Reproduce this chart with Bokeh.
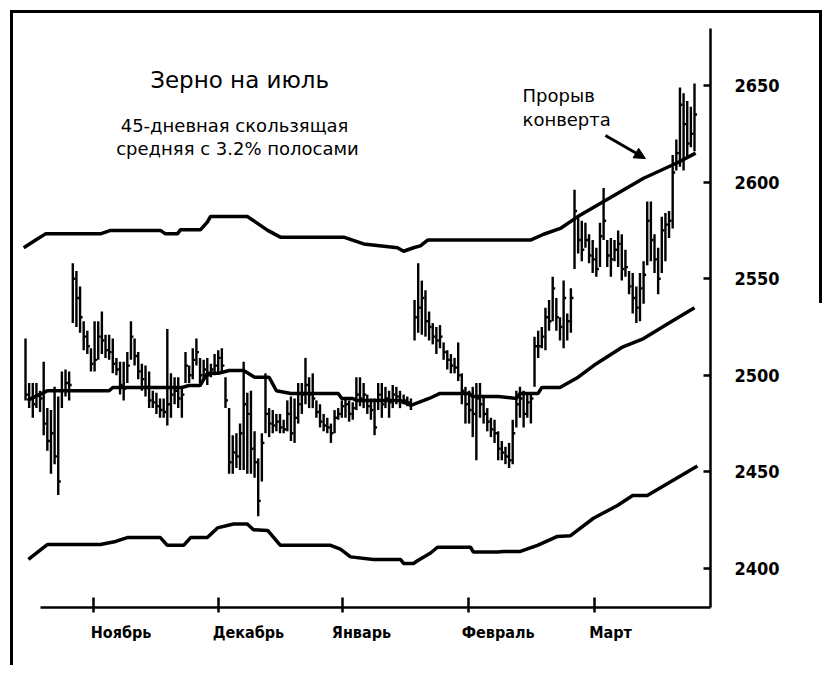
from bokeh.plotting import figure
from bokeh.models import (Range1d, FixedTicker, Label, Arrow, NormalHead,
                          ColumnDataSource, LinearAxis)
from bokeh.embed import file_html
from bokeh.resources import INLINE

# ---------------- data ----------------
# daily bars (index = trading session)
highs = [2519, 2496, 2496, 2496, 2492, 2507, 2483, 2482, 2494, 2489,
         2502, 2503, 2502, 2558, 2554, 2546, 2528, 2523, 2514, 2528,
         2528, 2533, 2521, 2521, 2519, 2509, 2507, 2507, 2512, 2528,
         2519, 2512, 2506, 2505, 2502, 2492, 2491, 2488, 2488, 2524,
         2501, 2499, 2499, 2494, 2512, 2505, 2514, 2519, 2509, 2508,
         2509, 2506, 2511, 2513, 2514, 2499, 2483, 2469, 2470, 2475,
         2507, 2491, 2492, 2471, 2457, 2470, 2501, 2483, 2482, 2480,
         2480, 2477, 2487, 2489, 2488, 2496, 2496, 2509, 2499, 2501,
         2487, 2485, 2480, 2478, 2475, 2482, 2483, 2487, 2488, 2487,
         2486, 2499, 2499, 2496, 2490, 2488, 2488, 2496, 2496, 2494,
         2492, 2495, 2494, 2492, 2490, 2489, 2488, 2539, 2558, 2549,
         2544, 2533, 2527, 2525, 2526, 2517, 2513, 2511, 2509, 2517,
         2501, 2494, 2492, 2494, 2496, 2496, 2489, 2483, 2478, 2477,
         2471, 2466, 2463, 2465, 2477, 2492, 2494, 2492, 2491, 2491,
         2520, 2523, 2525, 2535, 2539, 2551, 2540, 2530, 2549, 2532,
         2545, 2596, 2582, 2580, 2579, 2573, 2570, 2566, 2579, 2597,
         2570, 2571, 2570, 2575, 2573, 2565, 2554, 2553, 2546, 2553,
         2559, 2590, 2590, 2573, 2566, 2582, 2584, 2585, 2614, 2622,
         2649, 2646, 2642, 2639, 2651]
lows = [2487, 2483, 2478, 2483, 2481, 2469, 2461, 2449, 2454, 2438,
        2483, 2489, 2487, 2527, 2525, 2522, 2513, 2511, 2502, 2502,
        2508, 2511, 2509, 2508, 2501, 2500, 2490, 2487, 2496, 2508,
        2505, 2498, 2492, 2489, 2483, 2483, 2480, 2478, 2478, 2474,
        2478, 2485, 2483, 2478, 2496, 2496, 2498, 2505, 2496, 2497,
        2495, 2499, 2500, 2501, 2501, 2483, 2449, 2449, 2452, 2451,
        2451, 2449, 2449, 2447, 2427, 2445, 2470, 2468, 2470, 2471,
        2470, 2470, 2471, 2466, 2465, 2475, 2480, 2485, 2483, 2483,
        2478, 2473, 2471, 2470, 2465, 2470, 2477, 2478, 2478, 2476,
        2477, 2482, 2484, 2483, 2480, 2477, 2469, 2482, 2478, 2483,
        2478, 2483, 2485, 2483, 2485, 2484, 2482, 2518, 2522, 2521,
        2520, 2518, 2516, 2511, 2514, 2508, 2503, 2501, 2501, 2497,
        2485, 2475, 2475, 2468, 2456, 2478, 2475, 2471, 2468, 2465,
        2456, 2456, 2454, 2452, 2454, 2473, 2478, 2473, 2478, 2475,
        2494, 2509, 2514, 2513, 2523, 2528, 2523, 2518, 2514, 2518,
        2522, 2555, 2563, 2559, 2566, 2558, 2553, 2551, 2556, 2570,
        2556, 2551, 2559, 2556, 2549, 2551, 2542, 2532, 2527, 2528,
        2537, 2557, 2559, 2553, 2542, 2553, 2559, 2571, 2576, 2606,
        2608, 2606, 2613, 2618, 2616]
closes = [2490, 2488, 2485, 2490, 2488, 2475, 2466, 2470, 2458, 2445,
          2492, 2496, 2495, 2550, 2540, 2530, 2520, 2515, 2506, 2508,
          2520, 2518, 2513, 2512, 2506, 2503, 2495, 2493, 2505, 2520,
          2510, 2502, 2498, 2494, 2487, 2486, 2484, 2482, 2481, 2485,
          2490, 2492, 2488, 2490, 2505, 2500, 2508, 2512, 2500, 2503,
          2500, 2503, 2505, 2509, 2505, 2487, 2455, 2460, 2458, 2470,
          2485, 2480, 2462, 2455, 2435, 2465, 2480, 2475, 2474, 2476,
          2473, 2472, 2480, 2470, 2478, 2485, 2490, 2495, 2490, 2488,
          2481, 2476, 2474, 2473, 2470, 2478, 2480, 2484, 2485, 2480,
          2483, 2490, 2488, 2490, 2484, 2482, 2473, 2490, 2485, 2488,
          2486, 2490, 2489, 2486, 2487, 2486, 2485, 2530, 2535, 2540,
          2528, 2525, 2520, 2518, 2520, 2512, 2508, 2505, 2504, 2500,
          2492, 2485, 2482, 2480, 2488, 2485, 2480, 2476, 2472, 2470,
          2462, 2460, 2458, 2456, 2470, 2485, 2488, 2480, 2486, 2488,
          2515, 2515, 2520, 2530, 2528, 2545, 2530, 2525, 2540, 2528,
          2540, 2585, 2570, 2565, 2570, 2562, 2560, 2555, 2572, 2580,
          2562, 2560, 2565, 2568, 2555, 2556, 2546, 2540, 2535, 2545,
          2552, 2580, 2570, 2560, 2550, 2575, 2578, 2580, 2605, 2615,
          2640, 2630, 2620, 2625, 2635]
sessions = list(range(len(highs)))

# 45-day moving average and its 3.2% envelope (read as lines)
ma_x = [0.5, 5, 6, 23, 24, 43, 45, 48, 50, 53, 56, 60, 63, 67, 69, 73, 86,
        87, 90, 91, 103, 106, 111, 114, 122, 123, 130, 135, 136, 141, 142,
        147, 152, 157, 164, 170, 177, 184]
ma_y = [2487, 2491, 2492, 2492, 2493.7, 2493.7, 2494.7, 2494.7, 2501, 2501,
        2502.5, 2502.5, 2499, 2499, 2492, 2490.6, 2490.6, 2488, 2488, 2487,
        2487, 2484.4, 2488, 2490.6, 2490.6, 2489, 2489, 2488, 2490.6, 2490.6,
        2493.7, 2493.7, 2499, 2506, 2514.4, 2519, 2527, 2535]
up_x = [-0.5, 2.8, 5.5, 20.6, 23.4, 37.1, 38.5, 41.8, 42.6, 48.1, 50, 50.9,
        61, 63.3, 66.6, 70.1, 87.5, 93, 102.3, 104, 106.7, 108.6, 110.6,
        138.9, 142.5, 147.1, 151.8, 160.9, 170, 179.3, 184.3]
up_y = [2566, 2570, 2573.2, 2573.2, 2575, 2575, 2573.2, 2573.2, 2575.3,
        2575.3, 2579.3, 2582.2, 2582.2, 2579.3, 2575, 2571.5, 2571.5, 2568,
        2566, 2564.2, 2566, 2567, 2570, 2570, 2573, 2576, 2582, 2592, 2602,
        2610, 2615]
lo_x = [0.8, 5, 6, 20.6, 24.8, 28, 37.1, 39, 43.5, 45.4, 50, 52.8, 57.2, 61,
        62.7, 66.6, 70.1, 83.9, 86.6, 89.4, 95.7, 103.1, 104, 106.7, 107.8,
        111.4, 113.3, 122.4, 123.2, 129.8, 131.5, 136.1, 140.8, 146.3, 149.9,
        156.2, 162.8, 167, 171, 184.8]
lo_y = [2404.7, 2410.9, 2412.4, 2412.4, 2414, 2416, 2416, 2412, 2412, 2416,
        2416, 2421, 2423, 2423, 2420, 2419.7, 2412, 2412, 2410, 2406, 2404.7,
        2404.7, 2402.6, 2402.6, 2404, 2408, 2411, 2411, 2408.5, 2408.5, 2408.8,
        2408.8, 2412, 2416.6, 2417, 2426, 2432.6, 2437.8, 2437.8, 2453]

month_labels = ["Ноябрь", "Декабрь", "Январь", "Февраль", "Март"]
month_pos = [18.7, 53.1, 87.2, 121.8, 156.5]          # tick marks
month_label_pos = [26.3, 61.3, 92.4, 130.0, 160.9]    # label centres (printed right of tick)
price_ticks = [2400, 2450, 2500, 2550, 2600, 2650]

# ---------------- figure ----------------
AX_FONT = "'DejaVu Sans Condensed', 'DejaVu Sans', sans-serif"
TXT_FONT = "DejaVu Sans"

p = figure(width=812, height=655, output_backend="svg", toolbar_location=None,
           x_range=Range1d(-1.93, 188.4), y_range=Range1d(2379.8, 2679.5),
           y_axis_location="right",
           min_border_left=5, min_border_right=115,
           min_border_top=15, min_border_bottom=61)
p.styles = {"border-left": "3px solid black", "border-top": "3px solid black",
            "margin-left": "10px", "margin-top": "10px",
            "padding-right": "3px",
            "background-image": "linear-gradient(black, black)",
            "background-size": "3px 290px",
            "background-position": "right top",
            "background-repeat": "no-repeat"}
p.grid.visible = False
p.outline_line_color = None
p.background_fill_color = "white"
p.border_fill_color = "white"

# x axis: line + month ticks (tick labels not drawn)
xa = p.xaxis[0]
xa.ticker = FixedTicker(ticks=month_pos)
xa.bounds = (4.1, 188.4)
xa.axis_line_width = 2.5
xa.axis_line_color = "black"
xa.major_tick_in = 10
xa.major_tick_out = 5
xa.major_tick_line_width = 2.5
xa.major_tick_line_color = "black"
xa.minor_tick_line_color = None
xa.major_label_text_color = None
xa.major_label_text_font_size = "1px"
xa.major_label_standoff = 0

# second x axis: month names printed to the right of each tick
xl = LinearAxis(ticker=FixedTicker(ticks=month_label_pos),
                major_label_overrides={pos: lab for pos, lab in zip(month_label_pos, month_labels)},
                axis_line_color=None, major_tick_line_color=None,
                minor_tick_line_color=None, major_tick_in=0, major_tick_out=0,
                major_label_text_font=AX_FONT, major_label_text_font_style="bold",
                major_label_text_font_size="16px", major_label_text_color="black",
                major_label_standoff=10)
p.add_layout(xl, "below")

ya = p.yaxis[0]
ya.ticker = FixedTicker(ticks=price_ticks)
ya.axis_line_width = 2.5
ya.axis_line_color = "black"
ya.major_tick_in = 7
ya.major_tick_out = 0
ya.major_tick_line_width = 2.5
ya.major_tick_line_color = "black"
ya.minor_tick_line_color = None
ya.major_label_text_font = AX_FONT
ya.major_label_text_font_style = "bold"
ya.major_label_text_font_size = "18px"
ya.major_label_text_color = "black"
ya.major_label_standoff = 24

bars = ColumnDataSource(dict(x=sessions, hi=highs, lo=lows, cl=closes,
                             xr=[s + 0.7 for s in sessions]))
p.segment(x0="x", y0="lo", x1="x", y1="hi", source=bars,
          line_color="black", line_width=2.4)
p.segment(x0="x", y0="cl", x1="xr", y1="cl", source=bars,
          line_color="black", line_width=2.4)

p.line(ma_x, ma_y, line_color="black", line_width=3.5)
p.line(up_x, up_y, line_color="black", line_width=3.5)
p.line(lo_x, lo_y, line_color="black", line_width=3.5)

def note(x, y, text, size, align):
    p.add_layout(Label(x=x, y=y, text=text, text_font=TXT_FONT, text_color="black",
                       text_font_size=size, text_align=align, text_baseline="middle"))

note(58.9, 2652.6, "Зерно на июль", "23px", "center")
note(57.5, 2629.3, "45-дневная скользящая", "18px", "center")
note(58.3, 2617.4, "средняя с 3.2% полосами", "18px", "center")
note(136.7, 2644.8, "Прорыв", "18px", "left")
note(136.7, 2632.4, "конверта", "18px", "left")
p.add_layout(Arrow(x_start=159.5, y_start=2624.1, x_end=170.5, y_end=2612.2,
                   line_width=3, line_color="black",
                   end=NormalHead(size=11, fill_color="black", line_color="black")))

open("out.html", "w").write(file_html(p, INLINE))
